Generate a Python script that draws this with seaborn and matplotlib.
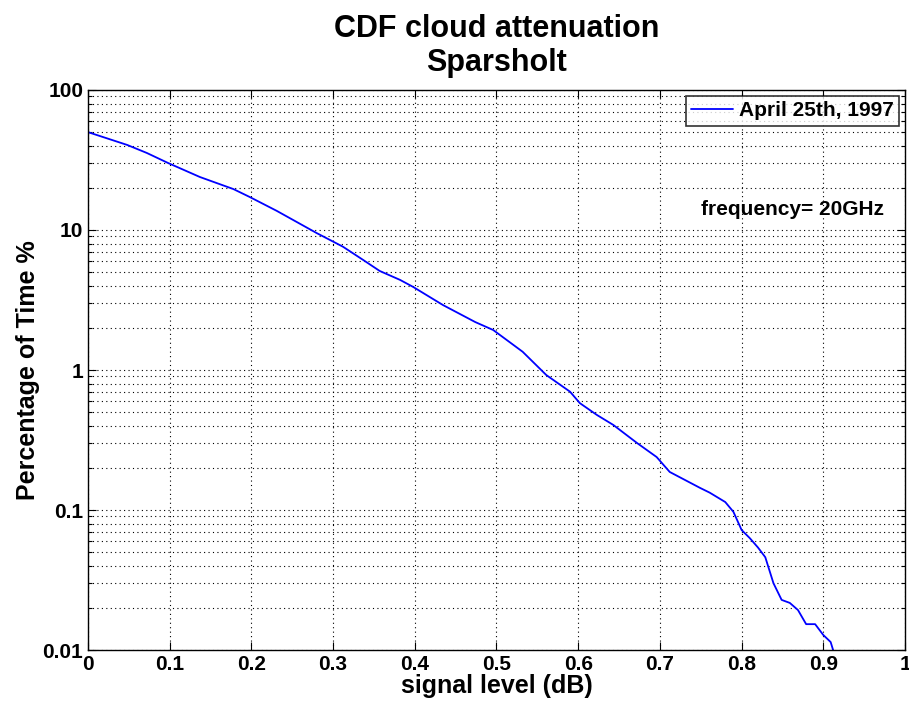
import numpy as np
import pandas as pd
import matplotlib
matplotlib.use("Agg")
import matplotlib.pyplot as plt
import seaborn as sns
from matplotlib.ticker import LogLocator, FixedLocator, NullFormatter

sns.set_theme(style="white")
plt.rcParams['font.family'] = ['Liberation Sans', 'DejaVu Sans']
plt.rcParams['text.color'] = 'black'
plt.rcParams['axes.labelcolor'] = 'black'
plt.rcParams['xtick.color'] = 'black'
plt.rcParams['ytick.color'] = 'black'

# Data
signal_db = [0.0, 0.048, 0.072, 0.098, 0.137, 0.178, 0.198, 0.231, 0.280, 0.312, 0.337,
             0.357, 0.382, 0.398, 0.4345, 0.474, 0.496, 0.532, 0.561, 0.590, 0.602,
             0.623, 0.643, 0.672, 0.696, 0.712, 0.749, 0.761, 0.780, 0.790, 0.800,
             0.810, 0.820, 0.829, 0.839, 0.849, 0.859, 0.869, 0.879, 0.890, 0.900,
             0.909, 0.912]
percent_time = [50.0, 40.5, 35.5, 30.1, 23.9, 19.6, 17.2, 13.7, 9.5, 7.6, 6.1,
                5.1, 4.4, 3.92, 2.91, 2.2, 1.93, 1.35, 0.92, 0.70, 0.58,
                0.477, 0.405, 0.301, 0.239, 0.187, 0.144, 0.133, 0.114, 0.097, 0.072,
                0.063, 0.054, 0.046, 0.030, 0.0228, 0.0217, 0.0193, 0.0153, 0.0153, 0.0128,
                0.0114, 0.0100]
series_label = "April 25th, 1997"
x_ticks = [0, 0.1, 0.2, 0.3, 0.4, 0.5, 0.6, 0.7, 0.8, 0.9, 1]
x_tick_labels = ["0", "0.1", "0.2", "0.3", "0.4", "0.5", "0.6", "0.7", "0.8", "0.9", "1"]
y_ticks = [0.01, 0.1, 1, 10, 100]
y_tick_labels = ["0.01", "0.1", "1", "10", "100"]

df = pd.DataFrame({"signal": signal_db, "pct": percent_time, "series": series_label})

fig = plt.figure(figsize=(9.09, 7.08), dpi=100)
ax = fig.add_axes([0.0968, 0.0819, 0.8988, 0.791])

sns.lineplot(data=df, x="signal", y="pct", hue="series", palette=["#0000ff"],
             ax=ax, linewidth=1.3, estimator=None, sort=False)

ax.set_yscale("log")
ax.set_xlim(0, 1)
ax.set_ylim(0.01, 100)

ax.xaxis.set_major_locator(FixedLocator(x_ticks))
ax.set_xticklabels(x_tick_labels)
ax.yaxis.set_major_locator(FixedLocator(y_ticks))
ax.set_yticklabels(y_tick_labels)
ax.yaxis.set_minor_locator(LogLocator(base=10, subs=np.arange(2, 10)))
ax.yaxis.set_minor_formatter(NullFormatter())

ax.grid(True, which="major", axis="both", color="black", linestyle=(0, (1, 3)), linewidth=0.8)
ax.grid(True, which="minor", axis="y", color="black", linestyle=(0, (1, 3)), linewidth=0.8)

ax.tick_params(which="both", direction="in", top=True, right=True, bottom=True, left=True,
               colors="black", labelsize=15)
ax.tick_params(which="major", length=6, width=0.8)
ax.tick_params(which="minor", length=3, width=0.8)
for lbl in ax.get_xticklabels() + ax.get_yticklabels():
    lbl.set_fontweight("bold")

for s in ax.spines.values():
    s.set_color("black")
    s.set_linewidth(1.0)
    s.set_visible(True)

ax.set_xlabel("signal level (dB)", fontsize=18, fontweight="bold", labelpad=0)
ax.set_ylabel("Percentage of Time %", fontsize=18, fontweight="bold", labelpad=2)
ax.set_title("CDF cloud attenuation\nSparsholt", fontsize=22, fontweight="bold",
             linespacing=1.15, pad=14)

leg = ax.legend(loc="upper right", frameon=True, fancybox=False,
                borderaxespad=0.3, handlelength=2.0, handletextpad=0.3,
                borderpad=0.25, prop={"weight": "bold", "size": 15})
leg.get_frame().set_edgecolor("black")
leg.get_frame().set_linewidth(1.2)
for t in leg.get_texts():
    t.set_color("black")

ax.text(0.862, 0.786, "frequency= 20GHz", transform=ax.transAxes, ha="center", va="center",
        fontsize=15, fontweight="bold", color="black")

fig.savefig("out.png", dpi=100, facecolor="white")
